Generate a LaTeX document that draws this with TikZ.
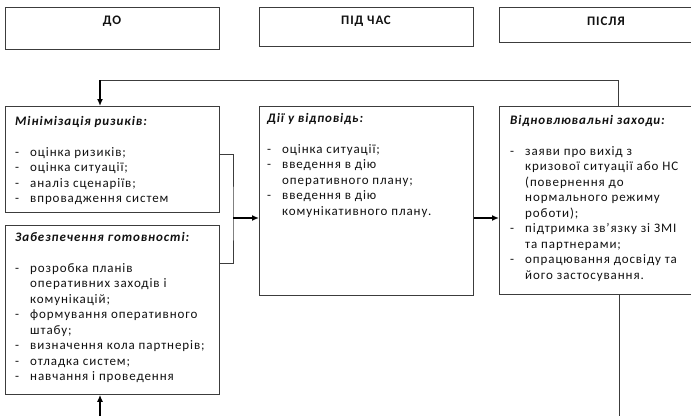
\documentclass[tikz,border=0pt]{standalone}
\usepackage{fontspec}
\setmainfont{Carlito}[LetterSpace=7]
\usetikzlibrary{positioning,arrows.meta,calc}
\definecolor{cLine}{HTML}{3C3C3C}
\definecolor{cInk}{HTML}{111111}
\newcommand{\itm}{\makebox[15pt][l]{-}}
\newcommand{\cnt}{\hspace*{15pt}}

\begin{document}
\begin{tikzpicture}[x=1pt, y=-1pt, font=\fontsize{13}{15.5}\selectfont,
    box/.style={draw=cLine, line width=0.8pt, anchor=north west, inner sep=0pt},
    txt/.style={anchor=north west, align=left, inner sep=0pt, text=cInk},
    head/.style={font=\fontsize{13}{15.5}\selectfont\bfseries, text=cInk},
    link/.style={draw=cLine, line width=0.8pt},
    push/.style={line width=1.6pt, -{Latex[length=7pt,width=6pt]}}]
    \useasboundingbox (0,0) rectangle (691,416);

    % --- stage headers ------------------------------------------------
    \node[box, minimum width=214, minimum height=42] (doBox)  at (5,7) {};
    \node[box, minimum width=214, minimum height=39] (pidBox) at (259,7) {};
    \node[box, minimum width=240, minimum height=35] (pisBox) at (499,7) {};
    \foreach \b/\t in {doBox/ДО, pidBox/ПІД ЧАС, pisBox/ПІСЛЯ}{
      \node[head] (\b Lbl) at ($(\b.north west)+(107,14)$) {\t};
    }

    % --- content boxes ------------------------------------------------
    \node[box, minimum width=214, minimum height=106] (minBox) at (5,106) {};
    \node[box, minimum width=214, minimum height=169] (gotBox) at (5,225) {};
    \node[box, minimum width=214, minimum height=189] (diiBox) at (259,106) {};
    \node[box, minimum width=240, minimum height=188] (vidBox) at (499,106) {};

    \node[txt] (minTxt) at ($(minBox.north west)+(10,10)$) {%
      \textbf{\textit{Мінімізація ризиків:}}\\ \\
      \itm оцінка ризиків;\\
      \itm оцінка ситуації;\\
      \itm аналіз сценаріїв;\\
      \itm впровадження систем};
    \node[txt] (gotTxt) at ($(gotBox.north west)+(10,7)$) {%
      \textbf{\textit{Забезпечення готовності:}}\\ \\
      \itm розробка планів\\
      \cnt оперативних заходів і\\
      \cnt комунікацій;\\
      \itm формування оперативного\\
      \cnt штабу;\\
      \itm визначення кола партнерів;\\
      \itm отладка систем;\\
      \itm навчання і проведення};
    \node[txt] (diiTxt) at ($(diiBox.north west)+(8,7)$) {%
      \textbf{\textit{Дії у відповідь:}}\\ \\
      \itm оцінка ситуації;\\
      \itm введення в дію\\
      \cnt оперативного плану;\\
      \itm введення в дію\\
      \cnt комунікативного плану.};
    \node[txt] (vidTxt) at ($(vidBox.north west)+(11,9)$) {%
      \textbf{\textit{Відновлювальні заходи:}}\\ \\
      \itm заяви про вихід з\\
      \cnt кризової ситуації або НС\\
      \cnt (повернення до\\
      \cnt нормального режиму\\
      \cnt роботи);\\
      \itm підтримка зв’язку зі ЗМІ\\
      \cnt та партнерами;\\
      \itm опрацювання досвіду та\\
      \cnt його застосування.};

    % --- connectors ---------------------------------------------------
    \coordinate (loopTop) at (100,80);
    \coordinate (brk) at (233,218);
    \coordinate (botL) at (100,416);
    \coordinate (botR) at (619,416);
    \draw[link] ([xshift=119pt]vidBox.north west) |- (loopTop);
    \draw[push] (loopTop) -- (minBox.north -| loopTop);
    \draw[link] ($(minBox.north east)+(0,48)$) -| (brk) |- ($(gotBox.north east)+(0,38)$);
    \draw[push] (brk) -- (brk -| diiBox.west);
    \draw[push] (brk -| diiBox.east) -- (brk -| vidBox.west);
    \draw[link] (vidBox.south -| botR) -- (botR);
    \draw[push] (botL) -- (gotBox.south -| botL);
  \end{tikzpicture}
\end{document}
